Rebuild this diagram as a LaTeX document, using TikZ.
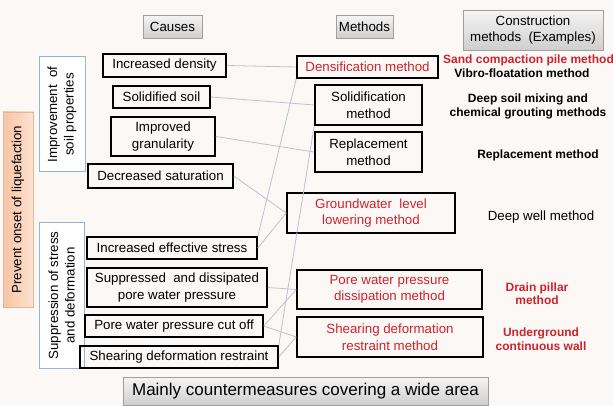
\documentclass[tikz,border=0pt]{standalone}
\usepackage{fontspec}
\setmainfont{Liberation Sans}
\definecolor{myred}{RGB}{205,35,45}
\definecolor{conn}{RGB}{185,196,212}
\definecolor{bgcol}{RGB}{252,248,246}
\definecolor{sideblue}{RGB}{150,180,208}
\definecolor{orangeA}{RGB}{248,196,165}
\definecolor{orangeB}{RGB}{252,226,208}
\begin{document}
\begin{tikzpicture}[x=1pt,y=-1pt,
  box/.style={draw=black, line width=1.6pt, align=center, inner sep=0pt,
    font=\fontsize{13.3}{16.5}\selectfont},
  mbox/.style={box, text=myred},
  header/.style={draw=gray!75, line width=0.6pt, top color=gray!8, bottom color=gray!38,
    align=center, inner sep=0pt, font=\fontsize{13.3}{16.5}\selectfont},
  sidebox/.style={draw=sideblue, line width=1pt, fill=white, align=center, inner sep=0pt,
    rotate=90, font=\fontsize{13.3}{16.5}\selectfont},
  example/.style={align=center, inner sep=0pt, font=\fontsize{12}{13.5}\selectfont\bfseries},
  conline/.style={draw=conn, line width=0.8pt}]
\fill[bgcol] (0,0) rectangle (613,406);
\useasboundingbox (0,0) rectangle (613,406);

% headers
\node[header, minimum width=59pt, minimum height=23pt] (hcauses) at (172.5,26.5) {Causes};
\node[header, minimum width=57pt, minimum height=23pt] (hmethods) at (364.5,26.5) {Methods};
\node[header, minimum width=140pt, minimum height=40pt] (hconstr) at (533,30) {Construction\\methods\ \ (Examples)};

% side boxes
\node[draw=orangeA!80!gray, line width=0.6pt, left color=orangeA, right color=orangeB, rotate=90,
  inner sep=0pt, minimum width=195pt, minimum height=30pt, font=\fontsize{13.3}{16.5}\selectfont]
  (prev) at (18,209.5) {Prevent onset of liquefaction};
\node[sidebox, minimum width=115pt, minimum height=46pt] (impr) at (62,114.5) {Improvement \ of\\soil properties};
\node[sidebox, minimum width=145pt, minimum height=45pt] (supr) at (61.5,295.5) {Suppression of stress\\and deformation};

% causes
\node[box, minimum width=123pt, minimum height=23pt] (dens) at (164.5,65.5) {Increased density};
\node[box, minimum width=97pt, minimum height=22pt] (solid) at (161.5,97) {Solidified soil};
\node[box, minimum width=104pt, minimum height=39pt] (gran) at (163,136.5) {Improved\\granularity};
\node[box, minimum width=145pt, minimum height=24pt] (satur) at (160.5,176) {Decreased saturation};
\node[box, minimum width=170pt, minimum height=22pt] (effs) at (172,248) {Increased effective stress};
\node[box, minimum width=180pt, minimum height=39pt] (supp) at (177,287.5) {Suppressed \ and dissipated\\pore water pressure};
\node[box, minimum width=178pt, minimum height=22pt] (cut) at (174,326) {Pore water pressure cut off};
\node[box, minimum width=198pt, minimum height=22pt] (shear) at (179,357) {Shearing deformation restraint};

% methods
\node[mbox, minimum width=141pt, minimum height=22pt] (densm) at (367.5,67) {Densification method};
\node[box, minimum width=107pt, minimum height=40pt] (solidm) at (368.5,105) {Solidification\\method};
\node[box, minimum width=107pt, minimum height=40pt] (replm) at (368.5,152) {Replacement\\method};
\node[mbox, minimum width=168pt, minimum height=40pt] (gwm) at (371,213) {Groundwater \ level\\lowering method};
\node[mbox, minimum width=185pt, minimum height=39pt] (porem) at (389.5,289.5) {Pore water pressure\\dissipation method};
\node[mbox, minimum width=186pt, minimum height=40pt] (shearm) at (390,337) {Shearing deformation\\restraint method};

% examples
\node[example, text=myred, anchor=west] (ex1) at (443,60) {Sand compaction pile method};
\node[example] (ex2) at (522,73) {Vibro-floatation method};
\node[example] (ex3) at (528,106.5) {Deep soil mixing and\\chemical grouting methods};
\node[example] (ex4) at (538,155) {Replacement method};
\node[align=center, inner sep=0pt, font=\fontsize{13.3}{16.5}\selectfont] (ex5) at (541,217) {Deep well method};
\node[example, text=myred] (ex6) at (537,293.5) {Drain pillar\\method};
\node[example, text=myred] (ex7) at (541,339) {Underground\\continuous wall};

% bottom
\node[header, minimum width=365pt, minimum height=28pt, font=\fontsize{17}{20}\selectfont] (bottom) at (305.5,391) {Mainly countermeasures covering a wide area};

% connectors
\draw[conline] (dens.east) -- (densm.west);
\draw[conline] (solid.east) -- (solidm.west);
\draw[conline] (gran.east) -- (replm.west);
\draw[conline] (satur.east) -- (gwm.west);
\draw[conline] (effs.east) -- (gwm.west);
\draw[conline] (effs.north east) -- (densm.south west);
\draw[conline] (supp.east) -- (porem.west);
\draw[conline] (cut.east) -- (porem.west);
\draw[conline] (cut.east) -- (shearm.west);
\draw[conline] (shear.east) -- (shearm.west);
\draw[conline] (shear.north east) -- (solidm.south west);
\end{tikzpicture}
\end{document}
